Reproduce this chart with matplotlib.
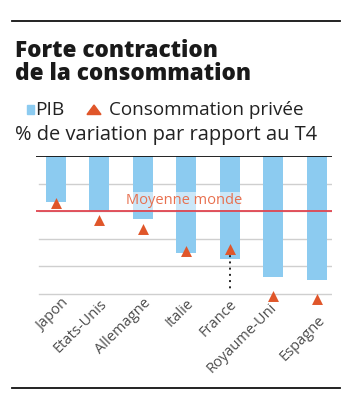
import matplotlib
matplotlib.use("Agg")
import matplotlib.pyplot as plt
from matplotlib.lines import Line2D
from matplotlib.patches import Rectangle, Polygon

countries = ["Japon", "Etats-Unis", "Allemagne", "Italie", "France", "Royaume-Uni", "Espagne"]
pib = [-1.66, -2.0, -2.28, -3.53, -3.74, -4.37, -4.49]
conso = [-1.71, -2.32, -2.66, -3.44, -3.38, -5.07, -5.19]
moyenne_monde = -2.0
grid_levels = [-1, -2, -3, -4, -5]

BODY = ["Open Sans", "DejaVu Sans"]
BLUE = "#8ccbf0"
ORANGE = "#e0562a"
RED = "#e04550"

fig = plt.figure(figsize=(3.59, 4.04), dpi=100)
W, H = 359, 404
def fx(px): return px / W
def fy(py): return 1 - py / H

# top and bottom rules
fig.add_artist(Line2D([fx(12), fx(340)], [fy(21), fy(21)], color="#111111", lw=1.3))
fig.add_artist(Line2D([fx(12), fx(340)], [fy(388), fy(388)], color="#111111", lw=1.3))

fig.text(fx(15), fy(57), "Forte contraction", fontsize=16.2, fontweight="heavy",
         family=BODY, color="#1a1a1a", va="baseline")
fig.text(fx(15), fy(79.5), "de la consommation", fontsize=16.2, fontweight="heavy",
         family=BODY, color="#1a1a1a", va="baseline")

# legend line
fig.add_artist(Rectangle((fx(27), fy(114)), fx(34) - fx(27), fy(105) - fy(114), color=BLUE,
                         transform=fig.transFigure))
fig.text(fx(35), fy(115), "PIB", fontsize=13.8, color="#222222", va="baseline", family=BODY)
fig.add_artist(Polygon([[fx(87), fy(114.5)], [fx(101), fy(114.5)], [fx(94), fy(105)]],
                       closed=True, color=ORANGE, transform=fig.transFigure))
fig.text(fx(109), fy(115), "Consommation privée", fontsize=13.6, color="#222222",
         va="baseline", family=BODY)
fig.text(fx(15), fy(140), "% de variation par rapport au T4", fontsize=14.4, color="#222222",
         va="baseline", family=BODY)

# axes: x from 36 to 332 px, y from 156 (0) to ~310
ax = fig.add_axes([fx(36), fy(310), fx(332) - fx(36), fy(156) - fy(310)])
x = list(range(len(countries)))
ax.set_xlim(-0.45, 6.35)
ax.set_ylim((156 - 310) / 27.6, 0)
for g in grid_levels:
    ax.axhline(g, color="#cfcfcf", lw=1.0, zorder=0, xmin=0.01)
ax.bar(x, pib, width=0.46, color=BLUE, zorder=1)
ax.axhline(moyenne_monde, color=RED, lw=1.3, zorder=3)
ax.text(2.95, moyenne_monde + 0.38, "Moyenne monde", color="#e8704f", fontsize=10.5,
        ha="center", va="center", family=BODY, zorder=4,
        bbox=dict(boxstyle="square,pad=0.1", fc="white", ec="none", alpha=0.55))
ax.plot([x[4], x[4]], [conso[4], -4.88], color="#222222", lw=1.4, ls=(0, (1, 2.2)), zorder=4)
ax.scatter(x, conso, marker="^", s=62, color=ORANGE, zorder=5, clip_on=False, linewidths=0)
ax.add_artist(Line2D([fx(17), fx(332)], [fy(156), fy(156)], transform=fig.transFigure,
                     color="#111111", lw=1.3, zorder=6))
for s in ax.spines.values():
    s.set_visible(False)
ax.set_xticks([])
ax.set_yticks([])
ax.patch.set_alpha(0)

# rotated labels
label_y = [-5.07, -5.1, -5.05, -5.07, -5.1, -5.22, -5.69]
label_dx = [0.12, 0.0, 0.02, 0.0, 0.0, -0.1, 0.03]
for i, c in enumerate(countries):
    ax.text(x[i] + label_dx[i], label_y[i], c, rotation=45, ha="right", va="top",
            rotation_mode="anchor", fontsize=10.5, color="#4d4d4d", family=BODY)

fig.savefig("out.png", dpi=100)
